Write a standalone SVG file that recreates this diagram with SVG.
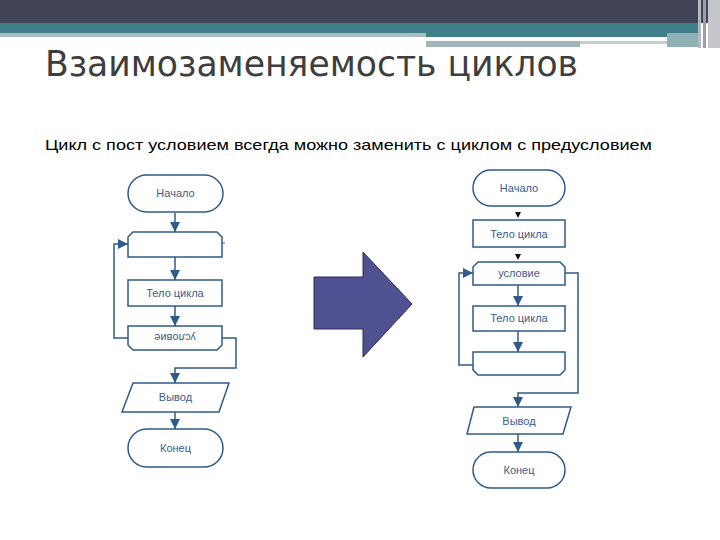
<svg xmlns="http://www.w3.org/2000/svg" width="720" height="540" viewBox="0 0 720 540">
<defs>
<style>
.shape{fill:#ffffff;stroke:#2f5a8a;stroke-width:1.5}
.conn{fill:none;stroke:#2f5a8a;stroke-width:1.5}
.lbl{font-family:"Liberation Sans",Arial,sans-serif;font-size:11px;fill:#3a5c8c;text-anchor:middle}
</style>
<marker id="ah" markerUnits="userSpaceOnUse" markerWidth="10" markerHeight="10" refX="10" refY="5" orient="auto">
<path d="M0,0 L10,5 L0,10 Z" fill="#2f5a8a"/>
</marker>
</defs>
<rect width="720" height="540" fill="#ffffff"/>
<g id="header">
<rect x="0" y="0" width="720" height="23" fill="#414456"/>
<rect x="0" y="23" width="700" height="10" fill="#3f7f88"/>
<rect x="0" y="33" width="426" height="4" fill="#a9bcc0"/>
<rect x="426" y="33" width="274" height="4" fill="#3f7f88"/>
<rect x="426" y="37" width="241" height="4" fill="#ffffff"/>
<rect x="426" y="41" width="154" height="6" fill="#a3b5b8"/>
<rect x="580" y="41" width="87" height="3" fill="#c3d0d2"/>
<rect x="667" y="33" width="33" height="14" fill="#8fb0b5"/>
<rect x="698" y="0" width="3" height="48" fill="#b4b8c0"/>
<rect x="703" y="0" width="3" height="48" fill="#9aa0aa"/>
<rect x="708" y="0" width="12" height="48" fill="#c4c6cc"/>
</g>
<text x="45" y="76" font-family="DejaVu Sans, sans-serif" font-size="36" fill="#3e3e3e" textLength="533" lengthAdjust="spacingAndGlyphs">Взаимозаменяемость циклов</text>
<text x="45" y="150" font-family="Liberation Sans, Arial, sans-serif" font-size="15" fill="#000000" textLength="607" lengthAdjust="spacingAndGlyphs">Цикл с пост условием всегда можно заменить с циклом с предусловием</text>

<g id="connectors">
<line class="conn" x1="175" y1="213" x2="175" y2="232" marker-end="url(#ah)"/>
<line class="conn" x1="175" y1="257" x2="175" y2="280" marker-end="url(#ah)"/>
<line class="conn" x1="175" y1="306" x2="175" y2="326" marker-end="url(#ah)"/>
<polyline class="conn" points="128,338 114,338 114,244 128,244" marker-end="url(#ah)"/>
<polyline class="conn" points="222,338 236,338 236,368 175,368 175,383" marker-end="url(#ah)"/>
<line class="conn" x1="175" y1="412" x2="175" y2="429" marker-end="url(#ah)"/>
<line x1="222" y1="243" x2="225" y2="243" stroke="#2f5a8a" stroke-width="1"/>
<polygon points="515,212 521,212 518,218" fill="#111111"/>
<polygon points="515,254 521,254 518,260" fill="#111111"/>
<line class="conn" x1="518" y1="285" x2="518" y2="306" marker-end="url(#ah)"/>
<line class="conn" x1="518" y1="331" x2="518" y2="352" marker-end="url(#ah)"/>
<polyline class="conn" points="473,365 459,365 459,273 473,273" marker-end="url(#ah)"/>
<polyline class="conn" points="565,273 578,273 578,393 518,393 518,407" marker-end="url(#ah)"/>
<line class="conn" x1="518" y1="434" x2="518" y2="452" marker-end="url(#ah)"/>
</g>

<g id="left-start"><rect class="shape" x="128" y="175" width="95" height="37" rx="18.5"/><text class="lbl" x="175.5" y="197">Начало</text></g>
<g id="left-loop"><path class="shape" d="M128,257 L128,237 L133,232 L217,232 L222,237 L222,257 Z"/></g>
<g id="left-body"><rect class="shape" x="128" y="280" width="94" height="26"/><text class="lbl" x="175" y="297">Тело цикла</text></g>
<g id="left-cond"><path class="shape" d="M128,326 L222,326 L222,345 L217,350 L133,350 L128,345 Z"/><text class="lbl" transform="translate(175,338) rotate(180)" y="4">условие</text></g>
<g id="left-out"><polygon class="shape" points="133,383 229,383 219,412 122,412"/><text class="lbl" x="175.5" y="401">Вывод</text></g>
<g id="left-end"><rect class="shape" x="128" y="429" width="95" height="38" rx="19"/><text class="lbl" x="175.5" y="452">Конец</text></g>

<g id="big-arrow"><polygon points="314,277 363,277 363,252 412,304 363,357 363,329 314,329" fill="#4f5191" stroke="#2b2d5c" stroke-width="1"/></g>

<g id="right-start"><rect class="shape" x="473" y="170" width="92" height="36" rx="18"/><text class="lbl" x="519" y="192">Начало</text></g>
<g id="right-body1"><rect class="shape" x="473" y="220" width="92" height="27"/><text class="lbl" x="519" y="238">Тело цикла</text></g>
<g id="right-cond"><path class="shape" d="M473,285 L473,267 L478,262 L560,262 L565,267 L565,285 Z"/><text class="lbl" x="519" y="277">условие</text></g>
<g id="right-body2"><rect class="shape" x="473" y="306" width="92" height="25"/><text class="lbl" x="519" y="322">Тело цикла</text></g>
<g id="right-loop"><path class="shape" d="M473,352 L565,352 L565,370 L560,375 L478,375 L473,370 Z"/></g>
<g id="right-out"><polygon class="shape" points="474,407 571,407 563,434 467,434"/><text class="lbl" x="519" y="425">Вывод</text></g>
<g id="right-end"><rect class="shape" x="473" y="452" width="92" height="36" rx="18"/><text class="lbl" x="519" y="474">Конец</text></g>
</svg>
